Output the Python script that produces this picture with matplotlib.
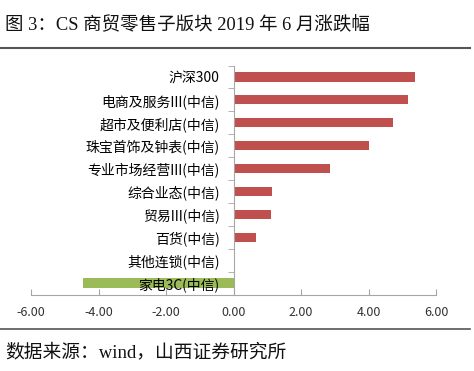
import matplotlib
matplotlib.use("Agg")
import matplotlib.pyplot as plt
import numpy as np
from matplotlib.lines import Line2D

# data (top -> bottom)
categories = ['沪深300', '电商及服务III(中信)', '超市及便利店(中信)', '珠宝首饰及钟表(中信)',
              '专业市场经营III(中信)', '综合业态(中信)', '贸易III(中信)', '百货(中信)',
              '其他连锁(中信)', '家电3C(中信)']
values = [5.39, 5.16, 4.74, 4.00, 2.87, 1.13, 1.10, 0.68, 0.0, -4.47]
xticks = [-6, -4, -2, 0, 2, 4, 6]

sans = ['Noto Sans CJK SC', 'DejaVu Sans']
serif = ['Liberation Serif', 'Noto Sans CJK SC']
plt.rcParams['font.family'] = sans

fig = plt.figure(figsize=(4.74, 3.71), dpi=100)
W, H = 474, 371
ax = fig.add_axes([31 / W, 1 - 294.5 / H, (436 - 31) / W, (294.5 - 65.5) / H])
ax.set_axisbelow(False)

n = len(categories)
ypos = np.arange(n)[::-1]
colors = ['#c0504d' if v >= 0 else '#9bbb59' for v in values]
ax.barh(ypos, values, height=0.4, color=colors, zorder=1)

ax.set_xlim(-6, 6)
ax.set_ylim(-0.5, n - 0.5)
ax.set_xticks(xticks)
ax.set_xticklabels(['%.2f' % t for t in xticks], fontsize=9, color='#333333')
ax.set_yticks(ypos)
ax.set_yticklabels(categories, fontsize=9, color='#333333')
ax.set_yticks(np.arange(-0.5, n, 1), minor=True)

for s in ['top', 'right']:
    ax.spines[s].set_visible(False)
ax.spines['left'].set_position(('data', 0))
ax.spines['left'].set_color('#a6a6a6')
ax.spines['bottom'].set_color('#a6a6a6')
ax.tick_params(axis='y', which='major', length=0, pad=10)
ax.tick_params(axis='y', which='minor', length=4, color='#a6a6a6', direction='out')
ax.tick_params(axis='x', length=4, color='#a6a6a6', direction='in', pad=8)

# title, rules and footnote
fig.text(5 / W, 1 - 25 / H, '图 3：CS 商贸零售子版块 2019 年 6 月涨跌幅',
         fontsize=13.3, family=serif, va='center', ha='left', color='#111111')
fig.add_artist(Line2D([0, 470 / W], [1 - 47.5 / H] * 2, color='#555555', lw=1.5))
fig.add_artist(Line2D([0, 470 / W], [1 - 329 / H] * 2, color='#555555', lw=1.2))
fig.text(5 / W, 1 - 352 / H, '数据来源：wind，山西证券研究所',
         fontsize=13.5, family=serif, va='center', ha='left', color='#111111')

fig.savefig('out.png', dpi=100)
